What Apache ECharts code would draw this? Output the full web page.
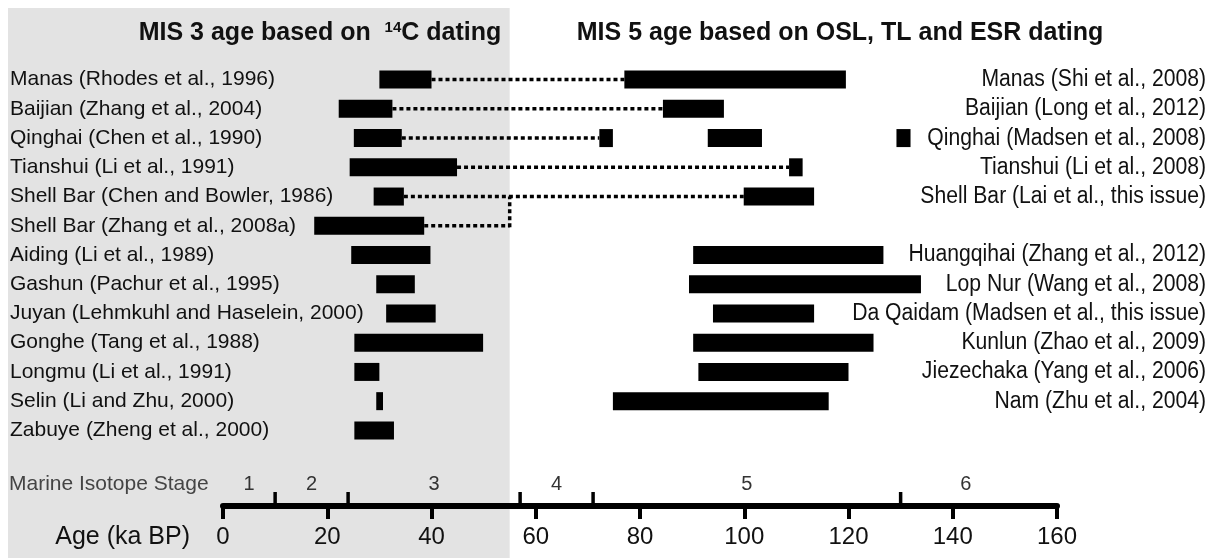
<!DOCTYPE html>
<html><head><meta charset="utf-8">
<script src="https://cdn.jsdelivr.net/npm/echarts@6/dist/echarts.min.js"></script>
<style>html,body{margin:0;padding:0;background:#fff}#c{width:1215px;height:558px}</style>
</head><body><div id="c"></div>
<script>
// ---- data ----
const leftLabels = [
  'Manas (Rhodes et al., 1996)', 'Baijian (Zhang et al., 2004)', 'Qinghai (Chen et al., 1990)',
  'Tianshui (Li et al., 1991)', 'Shell Bar (Chen and Bowler, 1986)', 'Shell Bar (Zhang et al., 2008a)',
  'Aiding (Li et al., 1989)', 'Gashun (Pachur et al., 1995)', 'Juyan (Lehmkuhl and Haselein, 2000)',
  'Gonghe (Tang et al., 1988)', 'Longmu (Li et al., 1991)', 'Selin (Li and Zhu, 2000)', 'Zabuye (Zheng et al., 2000)'
];
const leftStart = [30, 22.2, 25.1, 24.3, 28.9, 17.5, 24.6, 29.4, 31.3, 25.2, 25.2, 29.4, 25.2];
const leftEnd   = [40, 32.5, 34.3, 44.9, 34.7, 38.6, 39.8, 36.8, 40.8, 49.9, 30.0, 30.7, 32.8];

const rightLabels = [
  'Manas (Shi et al., 2008)', 'Baijian (Long et al., 2012)', 'Qinghai (Madsen et al., 2008)',
  'Tianshui (Li et al., 2008)', 'Shell Bar (Lai et al., this issue)', '',
  'Huangqihai (Zhang et al., 2012)', 'Lop Nur (Wang et al., 2008)', 'Da Qaidam (Madsen et al., this issue)',
  'Kunlun (Zhao et al., 2009)', 'Jiezechaka (Yang et al., 2006)', 'Nam (Zhu et al., 2004)', ''
];
const rightBarRow   = [0, 1, 2, 2, 2, 3, 4, 6, 7, 8, 9, 10, 11];
const rightBarStart = [77.0, 84.4, 72.2, 93.0, 129.2, 108.6, 99.9, 90.2, 89.4, 94.0, 90.2, 91.2, 74.8];
const rightBarEnd   = [119.5, 96.1, 74.8, 103.4, 131.9, 111.2, 113.4, 126.7, 133.9, 113.4, 124.8, 120.0, 116.2];

const connectorRows = [0, 1, 2, 3, 4, 5];
const bracketAge = 55;
const bracketRows = [5, 4];

const xMin = 0, xMax = 160, xStep = 20;
const misBounds = [10, 24, 57, 71, 130];
const misNames = ['1', '2', '3', '4', '5', '6'];
const misLabelAt = [5, 17, 40.5, 64, 100.5, 142.5];
const shadeEnd = 55;

// ---- build ----
const FONT = '"Liberation Sans", Arial, sans-serif';

const leftData = leftStart.map((s, i) => [i, s, leftEnd[i]]);
const rightData = rightBarStart.map((s, k) => [rightBarRow[k], s, rightBarEnd[k]]);
const rightLabelData = rightLabels.map((t, i) => [i, xMax]);
const connData = connectorRows.map(r => {
  const starts = rightBarStart.filter((s, k) => rightBarRow[k] === r);
  const to = starts.length ? Math.min(...starts) : bracketAge;
  return [r, leftEnd[r], to];
});

function barItem(params, api) {
  const row = api.value(0);
  const a = api.coord([api.value(1), row]);
  const b = api.coord([api.value(2), row]);
  const h = api.size([0, 1])[1] * 0.616;
  return { type: 'rect', shape: { x: a[0], y: a[1] - h / 2, width: b[0] - a[0], height: h }, style: { fill: '#000' } };
}
function rightLabelItem(params, api) {
  const p = api.coord([api.value(1), api.value(0)]);
  return { type: 'text', x: p[0] + 149, y: p[1], scaleX: 0.9, scaleY: 1,
    style: { text: rightLabels[params.dataIndex], fill: '#111', fontSize: 23.5, fontFamily: FONT, align: 'right', verticalAlign: 'middle' } };
}
const dotStyle = { stroke: '#000', lineWidth: 3.5, lineDash: [4, 3], fill: null };
function connItem(params, api) {
  const row = api.value(0);
  const a = api.coord([api.value(1), row]);
  const b = api.coord([api.value(2), row]);
  return { type: 'line', shape: { x1: a[0], y1: a[1], x2: b[0], y2: b[1] }, style: dotStyle };
}
function bracketItem(params, api) {
  const a = api.coord([api.value(0), api.value(1)]);
  const b = api.coord([api.value(0), api.value(2)]);
  return { type: 'line', shape: { x1: a[0], y1: a[1] + 1.5, x2: b[0], y2: b[1] }, style: dotStyle };
}
function misTickItem(params, api) {
  const p = api.coord([api.value(0), 0]);
  return { type: 'rect', shape: { x: p[0] - 1.75, y: p[1] - 14, width: 3.5, height: 14 }, style: { fill: '#000' } };
}
function misLabelItem(params, api) {
  const p = api.coord([api.value(0), 0]);
  return { type: 'text', x: p[0], y: p[1] - 22,
    style: { text: misNames[params.dataIndex], fill: '#333', fontSize: 20, fontFamily: FONT, align: 'center', verticalAlign: 'middle' } };
}

const chart = echarts.init(document.getElementById('c'), null, { renderer: 'canvas' });
chart.setOption({
  animation: false,
  backgroundColor: '#fff',
  grid: [
    { left: 223, right: 158, top: 65, height: 380 },
    { left: 223, right: 158, top: 470, bottom: 52 }
  ],
  xAxis: [
    { gridIndex: 0, type: 'value', min: xMin, max: xMax, interval: xStep, show: false },
    { gridIndex: 1, type: 'value', min: xMin, max: xMax, interval: xStep,
      axisLine: { show: true, onZero: false, lineStyle: { color: '#000', width: 6 } },
      axisTick: { show: true, length: 13, lineStyle: { color: '#000', width: 4 } },
      axisLabel: { fontSize: 24, color: '#111', margin: 19, fontFamily: FONT },
      splitLine: { show: false } }
  ],
  yAxis: [
    { gridIndex: 0, type: 'category', data: leftLabels, inverse: true,
      axisLine: { show: false }, axisTick: { show: false }, splitLine: { show: false },
      axisLabel: { interval: 0, align: 'left', margin: 213, fontSize: 21, color: '#111', fontFamily: FONT } },
    { gridIndex: 1, type: 'value', min: 0, max: 1, show: false }
  ],
  series: [
    { type: 'custom', xAxisIndex: 0, yAxisIndex: 0, data: connData, renderItem: connItem, encode: { x: [1, 2], y: 0 }, z: 2 },
    { type: 'custom', xAxisIndex: 0, yAxisIndex: 0, data: [[bracketAge, bracketRows[0], bracketRows[1]]], renderItem: bracketItem, encode: { x: 0, y: [1, 2] }, z: 2 },
    { type: 'custom', xAxisIndex: 0, yAxisIndex: 0, data: leftData, renderItem: barItem, encode: { x: [1, 2], y: 0 }, z: 3 },
    { type: 'custom', xAxisIndex: 0, yAxisIndex: 0, data: rightData, renderItem: barItem, encode: { x: [1, 2], y: 0 }, z: 3 },
    { type: 'custom', xAxisIndex: 0, yAxisIndex: 0, data: rightLabelData, renderItem: rightLabelItem, encode: { x: 1, y: 0 }, clip: false, z: 3 },
    { type: 'custom', xAxisIndex: 1, yAxisIndex: 1, data: misBounds.map(v => [v]), renderItem: misTickItem, encode: { x: 0 }, z: 3 },
    { type: 'custom', xAxisIndex: 1, yAxisIndex: 1, data: misLabelAt.map(v => [v]), renderItem: misLabelItem, encode: { x: 0 }, z: 3 }
  ]
});

const shadeRight = chart.convertToPixel({ xAxisIndex: 0 }, shadeEnd);
chart.setOption({
  graphic: [
    { type: 'rect', z: -10, shape: { x: 8, y: 8, width: shadeRight - 8, height: 558 - 8 }, style: { fill: '#e3e3e3' } },
    { type: 'text', z: 5, x: 320, y: 33, style: {
        text: 'MIS 3 age based on  {sup|14}C dating', fill: '#111', font: 'bold 25px ' + FONT,
        align: 'center', verticalAlign: 'middle',
        rich: { sup: { fontSize: 15, fontWeight: 'bold', fontFamily: FONT, fill: '#111', verticalAlign: 'top' } } } },
    { type: 'text', z: 5, x: 840, y: 33, style: {
        text: 'MIS 5 age based on OSL, TL and ESR dating', fill: '#111', font: 'bold 25px ' + FONT,
        align: 'center', verticalAlign: 'middle' } },
    { type: 'text', z: 5, x: 9, y: 484, style: { text: 'Marine Isotope Stage', fill: '#444', font: '21px ' + FONT, align: 'left', verticalAlign: 'middle' } },
    { type: 'text', z: 5, x: 190, y: 537, style: { text: 'Age (ka BP)', fill: '#111', font: '25px ' + FONT, align: 'right', verticalAlign: 'middle' } }
  ]
});
</script>
</body></html>
